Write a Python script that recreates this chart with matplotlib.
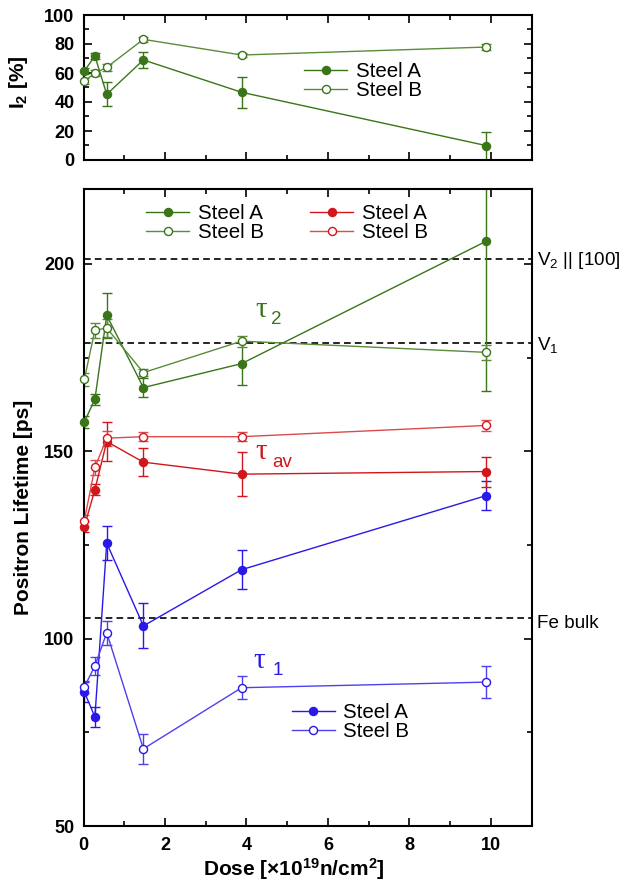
import matplotlib
matplotlib.use("Agg")
import matplotlib.pyplot as plt
from matplotlib.ticker import MultipleLocator
from matplotlib.lines import Line2D

plt.rcParams['font.family'] = ['Liberation Sans', 'DejaVu Sans']
plt.rcParams['mathtext.fontset'] = 'custom'
plt.rcParams['mathtext.rm'] = 'Liberation Sans'
plt.rcParams['mathtext.it'] = 'Liberation Sans:italic'
plt.rcParams['mathtext.bf'] = 'Liberation Sans:bold'

# ---- data -------------------------------------------------------------
dose = [0.02, 0.28, 0.57, 1.47, 3.88, 9.89]

i2_a = [61.4, 71.7, 45.3, 69.0, 46.7, 9.9]
i2_a_err = [2.0, 2.0, 8.4, 5.7, 10.5, 9.6]
i2_b = [54.5, 59.8, 63.9, 83.2, 72.4, 77.9]
i2_b_err = [2.0, 2.0, 2.5, 1.5, 1.5, 2.0]

tau2_a = [157.8, 163.9, 186.3, 167.0, 173.4, 206.1]
tau2_a_err = [1.7, 1.5, 6.0, 2.5, 5.8, 40.0]
tau2_b = [169.2, 182.3, 182.9, 171.0, 179.4, 176.4]
tau2_b_err = [1.7, 2.0, 2.5, 1.0, 1.5, 2.0]

tauav_a = [129.9, 139.8, 152.6, 147.1, 143.9, 144.6]
tauav_a_err = [1.5, 1.5, 5.3, 3.8, 5.9, 4.0]
tauav_b = [131.5, 145.7, 153.5, 153.9, 153.9, 156.9]
tauav_b_err = [1.5, 2.0, 2.0, 1.2, 1.2, 1.5]

tau1_a = [85.8, 79.1, 125.5, 103.4, 118.4, 138.2]
tau1_a_err = [2.7, 2.7, 4.6, 6.0, 5.2, 4.0]
tau1_b = [87.1, 92.7, 101.6, 70.6, 86.9, 88.4]
tau1_b_err = [1.5, 2.3, 3.2, 4.0, 3.1, 4.3]

# reference lifetimes [ps]
ref_levels = [201.3, 178.9, 105.5]
ref_names = [r'V$_2$ || [100]', r'V$_1$', 'Fe bulk']

# ---- style ------------------------------------------------------------
GREEN_A, GREEN_B = '#3b7519', '#5a8c3a'
RED_A, RED_B = '#d2161c', '#dc4a4a'
BLUE_A, BLUE_B = '#2a18e8', '#4d40ee'
MS = 5.8
CAP = 3.3
LEG_FS = 14.8


def series(ax, y, err, line_c, edge_c, filled):
    ln, caps, bars = ax.errorbar(
        dose, y, yerr=err, fmt='-o', color=line_c, lw=1.0,
        ms=MS, mec=edge_c, mew=1.0,
        mfc=edge_c if filled else 'white',
        ecolor=line_c, elinewidth=1.0, capsize=CAP, capthick=1.0)
    ln.set_clip_on(False)
    ln.set_zorder(4)
    return ln


def legend_handles(ca, cb, ea, eb):
    h_a = Line2D([], [], color=ca, lw=1.0, marker='o', ms=MS, mfc=ea, mec=ea)
    h_b = Line2D([], [], color=cb, lw=1.0, marker='o', ms=MS, mfc='white', mec=eb)
    return [h_a, h_b]


def style_axes(ax):
    for s in ax.spines.values():
        s.set_linewidth(1.5)
    ax.tick_params(which='both', direction='in', top=True, right=True,
                   width=1.2, labelsize=13)
    ax.tick_params(which='major', length=6)
    ax.tick_params(which='minor', length=3.5)
    for lab in ax.get_xticklabels() + ax.get_yticklabels():
        lab.set_fontweight('bold')


fig = plt.figure(figsize=(6.24, 8.88), dpi=100)

# ---- upper panel: intensity I2 ---------------------------------------
ax1 = fig.add_axes([83.5 / 624, 1 - 160 / 888, 448.2 / 624, 145 / 888])
series(ax1, i2_a, i2_a_err, GREEN_A, GREEN_A, True)
series(ax1, i2_b, i2_b_err, GREEN_B, GREEN_A, False)
ax1.set_xlim(0, 11)
ax1.set_ylim(0, 100)
ax1.xaxis.set_major_locator(MultipleLocator(2))
ax1.xaxis.set_minor_locator(MultipleLocator(1))
ax1.yaxis.set_major_locator(MultipleLocator(20))
ax1.yaxis.set_minor_locator(MultipleLocator(10))
ax1.set_xticklabels([])
style_axes(ax1)
ax1.tick_params(axis='y', pad=6.5)
ax1.set_ylabel(r'I$_{\mathbf{2}}$ [%]', fontsize=15, fontweight='bold')
ax1.yaxis.set_label_coords(-0.119, 0.535)
ax1.legend(legend_handles(GREEN_A, GREEN_B, GREEN_A, GREEN_A), ['Steel A', 'Steel B'],
           loc='center left', bbox_to_anchor=(0.492, 0.546), frameon=False,
           fontsize=LEG_FS, handlelength=2.1, handletextpad=0.42,
           labelspacing=0.0, borderpad=0, borderaxespad=0)

# ---- lower panel: positron lifetimes ---------------------------------
ax2 = fig.add_axes([83.5 / 624, 1 - 826 / 888, 448.2 / 624, 637 / 888])
for lvl in ref_levels:
    ax2.axhline(lvl, color='black', lw=1.2, ls=(0, (4, 2.5)), zorder=1)

series(ax2, tau1_a, tau1_a_err, BLUE_A, BLUE_A, True)
series(ax2, tau1_b, tau1_b_err, BLUE_B, BLUE_A, False)
series(ax2, tauav_a, tauav_a_err, RED_A, RED_A, True)
series(ax2, tauav_b, tauav_b_err, RED_B, RED_A, False)
series(ax2, tau2_a, tau2_a_err, GREEN_A, GREEN_A, True)
series(ax2, tau2_b, tau2_b_err, GREEN_B, GREEN_A, False)

ax2.set_xlim(0, 11)
ax2.set_ylim(50, 220)
ax2.xaxis.set_major_locator(MultipleLocator(2))
ax2.xaxis.set_minor_locator(MultipleLocator(1))
ax2.yaxis.set_major_locator(MultipleLocator(50))
ax2.yaxis.set_minor_locator(MultipleLocator(25))
style_axes(ax2)
ax2.tick_params(axis='x', pad=8)
ax2.tick_params(axis='y', pad=6.5)
ax2.set_ylabel('Positron Lifetime [ps]', fontsize=15, fontweight='bold')
ax2.yaxis.set_label_coords(-0.113, 0.5)
ax2.set_xlabel(r'Dose [×10$^{\mathbf{19}}$n/cm$^{\mathbf{2}}$]', fontsize=15, fontweight='bold')
ax2.xaxis.set_label_coords(0.4697, -0.047)

# reference level labels right of the frame
trans = ax2.get_yaxis_transform()
for lvl, name, yb in zip(ref_levels, ref_names, [199.65, 176.9, 102.94]):
    ax2.text(1.011, yb, name, transform=trans, fontsize=13.6, ha='left',
             va='baseline', clip_on=False)

# curve labels
for (x0, yb0, xs, ybs, sub, c) in [
        (4.21, 185.75, 4.60, 184.1, '2', GREEN_A),
        (4.21, 148.05, 4.63, 145.9, 'av', RED_A),
        (4.16, 92.2, 4.63, 90.3, '1', BLUE_A)]:
    ax2.text(x0, yb0, 'τ', fontsize=21, color=c, family='Liberation Serif',
             ha='left', va='baseline')
    ax2.text(xs, ybs, sub, fontsize=13.5, color=c, ha='left', va='baseline')

leg_kw = dict(frameon=False, fontsize=LEG_FS, handlelength=2.1, handletextpad=0.42,
              labelspacing=0.0, borderpad=0, borderaxespad=0, loc='center left')
lg1 = ax2.legend(legend_handles(GREEN_A, GREEN_B, GREEN_A, GREEN_A), ['Steel A', 'Steel B'],
                 bbox_to_anchor=(0.1394, 0.946), **leg_kw)
ax2.add_artist(lg1)
lg2 = ax2.legend(legend_handles(RED_A, RED_B, RED_A, RED_A), ['Steel A', 'Steel B'],
                 bbox_to_anchor=(0.5053, 0.946), **leg_kw)
ax2.add_artist(lg2)
ax2.legend(legend_handles(BLUE_A, BLUE_B, BLUE_A, BLUE_A), ['Steel A', 'Steel B'],
           bbox_to_anchor=(0.4645, 0.1637), **leg_kw)

fig.savefig('out.png', dpi=100)
